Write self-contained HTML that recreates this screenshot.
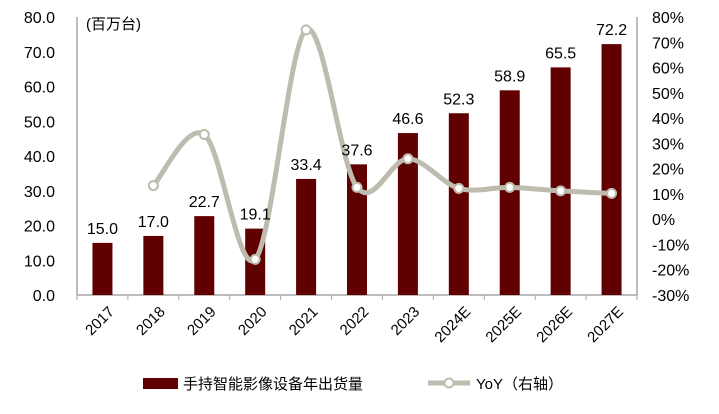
<!DOCTYPE html>
<html><head><meta charset="utf-8"><style>
body{margin:0;background:#fff;}
svg text{font-family:"Liberation Sans","Noto Sans CJK SC",sans-serif;fill:#000;}
</style></head><body>
<svg id="chart" width="719" height="409" viewBox="0 0 719 409" xmlns="http://www.w3.org/2000/svg">
<g id="axes"></g><g id="bars"></g><g id="line"></g><g id="labels"></g>
<text x="86" y="29" font-size="15">(百万台)</text>
<g>
<rect x="143" y="378" width="35" height="11" fill="#600000"/>
<text x="183" y="389" font-size="15">手持智能影像设备年出货量</text>
<line x1="428" y1="383" x2="470" y2="383" stroke="#bdbcae" stroke-width="5"/>
<circle cx="449" cy="383" r="4.5" fill="#fff" stroke="#bdbcae" stroke-width="2"/>
<text x="476" y="389" font-size="15">YoY（右轴）</text>
</g>
</svg>
<script>
const categories=["2017","2018","2019","2020","2021","2022","2023","2024E","2025E","2026E","2027E"];
const shipments=[15.0,17.0,22.7,19.1,33.4,37.6,46.6,52.3,58.9,65.5,72.2];
const yoy=[null,13.3,33.5,-15.9,74.9,12.6,23.9,12.2,12.6,11.2,10.2];
const leftTicks=[0,10,20,30,40,50,60,70,80];
const rightTicks=[-30,-20,-10,0,10,20,30,40,50,60,70,80];
const NS="http://www.w3.org/2000/svg";
const X0=77,X1=637,Y0=295,Y1=17;
const bw=(X1-X0)/categories.length;
const xc=i=>X0+bw*(i+0.5);
const yL=v=>Y0-(v/80)*(Y0-Y1);
const yR=v=>Y0-((v+30)/110)*(Y0-Y1);
function mk(tag,attrs,parent,txt){const e=document.createElementNS(NS,tag);for(const k in attrs)e.setAttribute(k,attrs[k]);if(txt!==undefined)e.textContent=txt;document.getElementById(parent).appendChild(e);return e;}
let e;
e=mk("line",{x1:X0,y1:Y1,x2:X0,y2:Y0,stroke:"#a6a6a6","stroke-width":1.5},"axes");


e=mk("line",{x1:X1,y1:Y1,x2:X1,y2:Y0,stroke:"#a6a6a6","stroke-width":1.5},"axes");


e=mk("line",{x1:X0,y1:Y0,x2:X1,y2:Y0,stroke:"#a6a6a6","stroke-width":1.5},"axes");


for(let i=0;i<=categories.length;i++){
 e=mk("line",{x1:X0+bw*i,y1:Y0,x2:X0+bw*i,y2:Y0+5,stroke:"#a6a6a6","stroke-width":1},"axes");
 
 
}
leftTicks.forEach(v=>{
 e=mk("text",{x:55,y:yL(v)+6,"font-size":16,"text-anchor":"end"},"axes",v.toFixed(1));
 
 
});
rightTicks.forEach(v=>{
 e=mk("text",{x:652,y:yR(v)+6,"font-size":16},"axes",v+"%");
 
 
});
categories.forEach((c,i)=>{
 const x=xc(i),y=Y0+14;
 e=mk("text",{x:x+9,y:y+5,"font-size":15,"text-anchor":"end",transform:`rotate(-45 ${x+9} ${y})`},"axes",c);
 
 
});
shipments.forEach((v,i)=>{
 e=mk("rect",{x:xc(i)-10,y:yL(v),width:20,height:Y0-yL(v),fill:"#600000"},"bars");
 
 
 e=mk("text",{x:xc(i),y:yL(v)-9,"font-size":16,"text-anchor":"middle"},"labels",v.toFixed(1));
 
 
});
const pts=[];yoy.forEach((v,i)=>{if(v!==null)pts.push([xc(i),yR(v)]);});
let d="M"+pts[0][0]+","+pts[0][1];
for(let i=0;i<pts.length-1;i++){
 const p0=pts[Math.max(0,i-1)],p1=pts[i],p2=pts[i+1],p3=pts[Math.min(pts.length-1,i+2)];
 const t=1/6;
 d+=` C${p1[0]+(p2[0]-p0[0])*t},${p1[1]+(p2[1]-p0[1])*t} ${p2[0]-(p3[0]-p1[0])*t},${p2[1]-(p3[1]-p1[1])*t} ${p2[0]},${p2[1]}`;
}
e=mk("path",{d:d,fill:"none",stroke:"#bdbcae","stroke-width":5,"stroke-linecap":"round"},"line");


pts.forEach(p=>{
 e=mk("circle",{cx:p[0],cy:p[1],r:4.5,fill:"#fff",stroke:"#bdbcae","stroke-width":2},"line");
 
 
});
</script>
</body></html>
